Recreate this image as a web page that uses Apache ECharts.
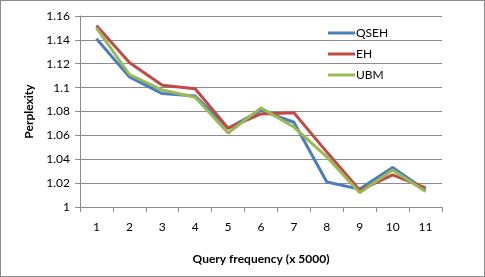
<!DOCTYPE html>
<html><head><meta charset="utf-8">
<script src="https://cdn.jsdelivr.net/npm/echarts@6/dist/echarts.min.js"></script>
<style>html,body{margin:0;padding:0;background:#fff}#c{width:485px;height:277px;box-sizing:border-box;border:1px solid #8c8c8c}</style>
</head><body><div id="c"></div>
<script>
var categories = ['1','2','3','4','5','6','7','8','9','10','11'];
var qseh = [1.141, 1.109, 1.095, 1.093, 1.066, 1.081, 1.071, 1.021, 1.015, 1.033, 1.014];
var eh   = [1.152, 1.121, 1.102, 1.099, 1.066, 1.078, 1.079, 1.046, 1.014, 1.027, 1.016];
var ubm  = [1.150, 1.111, 1.098, 1.092, 1.062, 1.083, 1.067, 1.042, 1.012, 1.031, 1.013];
var font = 'Lato, "Open Sans", sans-serif';
var chart = echarts.init(document.getElementById('c'), null, {renderer:'canvas'});
function s(name, data, color){
  return {name:name, type:'line', data:data, symbol:'none', smooth:false,
    lineStyle:{width:3, color:color}, itemStyle:{color:color}};
}
chart.setOption({
  animation:false,
  textStyle:{fontFamily:font},
  grid:{left:79, right:42, top:15, bottom:69},
  legend:{orient:'vertical', left:322, top:21, itemWidth:27, itemHeight:3, itemGap:9, icon:'rect',
    textStyle:{fontSize:12, color:'#000', fontFamily:font, padding:[0,0,0,-4]},
    data:['QSEH','EH','UBM']},
  xAxis:{type:'category', data:categories, boundaryGap:true,
    name:'Query frequency (x 5000)', nameLocation:'middle', nameGap:46,
    nameTextStyle:{fontWeight:'bold', fontSize:12, color:'#000', fontFamily:font},
    axisLine:{lineStyle:{color:'#8c8c8c', width:1}},
    axisTick:{show:true, length:5, lineStyle:{color:'#8c8c8c'}, alignWithLabel:false},
    axisLabel:{color:'#000', fontSize:12, margin:14, fontFamily:font}},
  yAxis:{type:'value', min:1, max:1.16, interval:0.02,
    name:'Perplexity', nameLocation:'middle', nameGap:45,
    nameTextStyle:{fontWeight:'bold', fontSize:12, color:'#000', fontFamily:font},
    axisLine:{show:true, lineStyle:{color:'#8c8c8c', width:1}},
    axisTick:{show:true, length:5, lineStyle:{color:'#8c8c8c'}},
    axisLabel:{color:'#000', fontSize:12, margin:10, fontFamily:font},
    splitLine:{lineStyle:{color:'#8c8c8c', width:1}}},
  series:[s('QSEH', qseh, '#4a7ebb'), s('EH', eh, '#be4b48'), s('UBM', ubm, '#98b954')]
});
</script></body></html>
